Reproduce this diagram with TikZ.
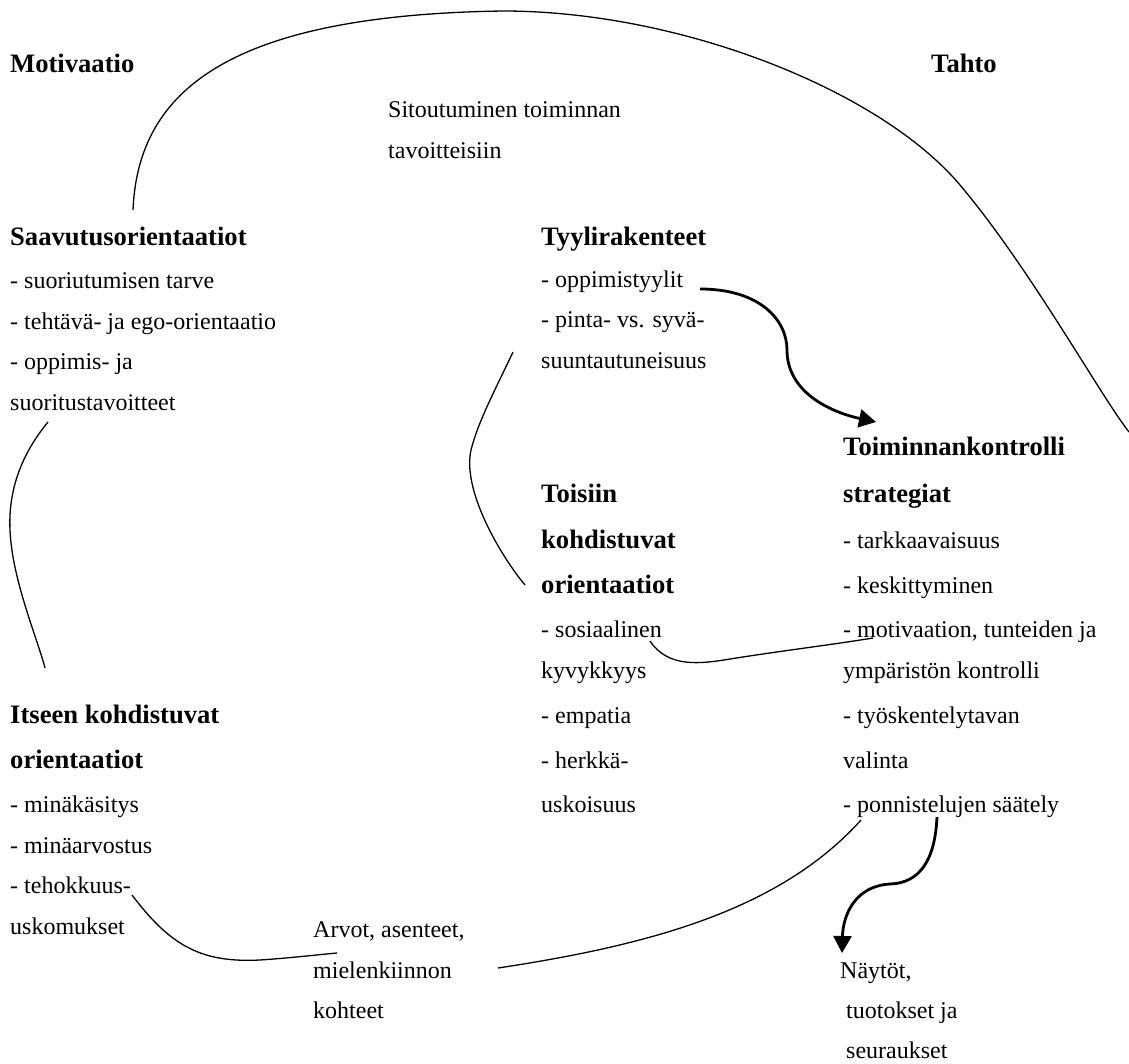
\documentclass[tikz,border=0pt]{standalone}
\usepackage{fontspec}
\setmainfont{Liberation Serif}
\usetikzlibrary{arrows.meta}
\begin{document}
\begin{tikzpicture}[x=1pt,y=-1pt,
  txt/.style={anchor=base west, inner sep=0pt, font=\fontsize{24}{24}\selectfont},
  hd/.style={anchor=base west, inner sep=0pt, font=\fontsize{26.6}{26.6}\selectfont\bfseries},
  link/.style={line width=1.3pt},
  flow/.style={line width=2.8pt, -{Triangle[length=17pt,width=18pt]}}]
\useasboundingbox (0,0) rectangle (1129,1063);

% headings
\node[hd] (mot) at (10,72) {Motivaatio};
\node[hd] (tah) at (931,72) {Tahto};
\node[txt] (sit1) at (388,117) {Sitoutuminen toiminnan};
\node[txt] (sit2) at (388,158) {tavoitteisiin};

% Saavutusorientaatiot
\node[hd]  (sa0) at (10,245) {Saavutusorientaatiot};
\node[txt] (sa1) at (10,288) {- suoriutumisen tarve};
\node[txt] (sa2) at (10,329) {- tehtävä- ja ego-orientaatio};
\node[txt] (sa3) at (10,369) {- oppimis- ja};
\node[txt] (sa4) at (10,410) {suoritustavoitteet};

% Tyylirakenteet
\node[hd]  (ty0) at (541,245) {Tyylirakenteet};
\node[txt] (ty1) at (541,287) {- oppimistyylit};
\node[txt] (ty2) at (541,327) {- pinta- vs. syvä-};
\node[txt] (ty3) at (541,368) {suuntautuneisuus};

% Toiminnankontrollistrategiat
\node[hd]  (tk0) at (843,455) {Toiminnankontrolli};
\node[hd]  (tk1) at (843,502) {strategiat};
\node[txt] (tk2) at (843,548) {- tarkkaavaisuus};
\node[txt] (tk3) at (843,593) {- keskittyminen};
\node[txt] (tk4) at (843,637) {- motivaation, tunteiden ja};
\node[txt] (tk5) at (843,678) {ympäristön kontrolli};
\node[txt] (tk6) at (843,723) {- työskentelytavan};
\node[txt] (tk7) at (843,768) {valinta};
\node[txt] (tk8) at (843,812) {- ponnistelujen säätely};

% Toisiin kohdistuvat orientaatiot
\node[hd]  (to0) at (541,502) {Toisiin};
\node[hd]  (to1) at (541,548) {kohdistuvat};
\node[hd]  (to2) at (541,593) {orientaatiot};
\node[txt] (to3) at (541,637) {- sosiaalinen};
\node[txt] (to4) at (541,678) {kyvykkyys};
\node[txt] (to5) at (541,723) {- empatia};
\node[txt] (to6) at (541,768) {- herkkä-};
\node[txt] (to7) at (541,812) {uskoisuus};

% Itseen kohdistuvat orientaatiot
\node[hd]  (it0) at (10,723) {Itseen kohdistuvat};
\node[hd]  (it1) at (10,768) {orientaatiot};
\node[txt] (it2) at (10,812) {- minäkäsitys};
\node[txt] (it3) at (10,853) {- minäarvostus};
\node[txt] (it4) at (10,893) {- tehokkuus-};
\node[txt] (it5) at (10,934) {uskomukset};

% Arvot
\node[txt] (ar0) at (313,937) {Arvot, asenteet,};
\node[txt] (ar1) at (313,978) {mielenkiinnon};
\node[txt] (ar2) at (313,1018) {kohteet};

% Näytöt
\node[txt] (na0) at (840,978) {Näytöt,};
\node[txt] (na1) at (846,1018) {tuotokset ja};
\node[txt] (na2) at (846,1058) {seuraukset};

% connector end points
\coordinate (saTop) at (133,210);
\coordinate (apex) at (503,11);
\coordinate (arcR) at (960,185);
\coordinate (edgeR) at (1129,432);
\coordinate (saBot) at (48,422);
\coordinate (itTop) at (45,668);
\coordinate (tyOut) at (700,289);
\coordinate (tkIn) at (876,422);
\coordinate (tySide) at (513,352);
\coordinate (toSide) at (525,585);
\coordinate (soc) at (650,641);
\coordinate (motv) at (873,638);
\coordinate (teh) at (132,895);
\coordinate (arL) at (337,953);
\coordinate (arR) at (498,968);
\coordinate (ponL) at (861,820);
\coordinate (ponR) at (937,817);
\coordinate (naTop) at (842,953);

% commitment arc from motivation to volition
\draw[link] (saTop) .. controls (138,90) and (230,15) .. (apex)
  .. controls (680,11) and (880,90) .. (arcR)
  .. controls (1030,268) and (1100,395) .. (edgeR);

% Saavutusorientaatiot -- Itseen kohdistuvat
\draw[link] (saBot) .. controls (25,450) and (8,485) .. (10,530)
  .. controls (12,580) and (38,640) .. (itTop);

% Tyylirakenteet -> Toiminnankontrolli
\draw[flow] (tyOut) .. controls (760,289) and (787,320) .. (787,350)
  .. controls (787,392) and (830,412) .. (tkIn);

% Tyylirakenteet -- Toisiin kohdistuvat
\draw[link] (tySide) .. controls (495,390) and (478,422) .. (471,450)
  .. controls (462,490) and (500,555) .. (toSide);

% sosiaalinen -- motivaation
\draw[link] (soc) .. controls (668,668) and (700,664) .. (730,659)
  .. controls (780,651) and (830,645) .. (motv);

% tehokkuus -- Arvot
\draw[link] (teh) .. controls (170,945) and (200,963) .. (260,960)
  .. controls (290,958) and (315,955) .. (arL);

% Arvot -- ponnistelujen säätely
\draw[link] (arR) .. controls (650,945) and (780,910) .. (ponL);

% ponnistelujen säätely -> Näytöt
\draw[flow] (ponR) .. controls (935,860) and (920,883) .. (890,884)
  .. controls (855,886) and (843,915) .. (naTop);
\end{tikzpicture}
\end{document}
